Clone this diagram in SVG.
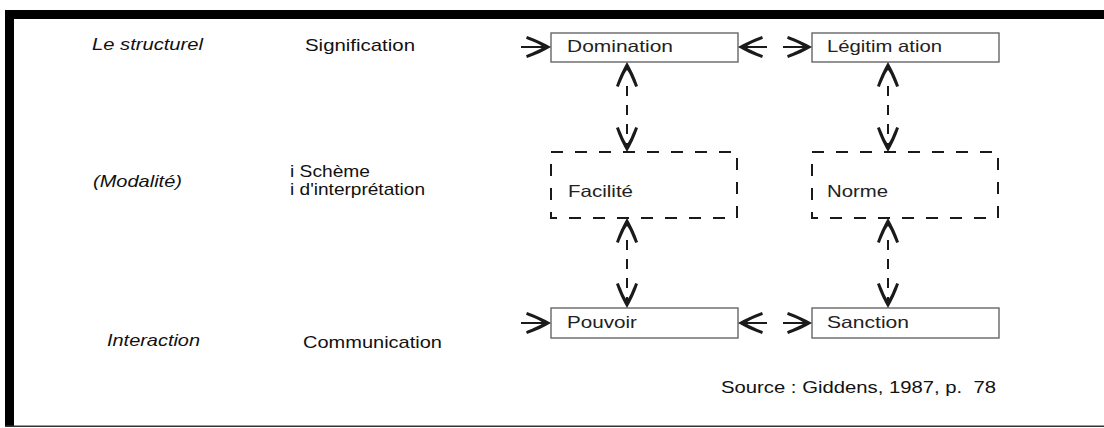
<svg xmlns="http://www.w3.org/2000/svg" xmlns:xlink="http://www.w3.org/1999/xlink" width="1104" height="428" viewBox="0 0 1104 428">
  <style>
    .lbl { font-family: "Liberation Sans", Arial, sans-serif; font-size: 17px; fill: #111; }
    .it { font-style: italic; }
    .nt { font-family: "Liberation Sans", Arial, sans-serif; font-size: 16.5px; fill: #222; }
    .box { fill: #fff; stroke: #666; stroke-width: 1.4; }
    .dbox { fill: none; stroke: #1a1a1a; stroke-width: 2; stroke-dasharray: 12 12; }
    .stem { stroke: #1a1a1a; stroke-width: 2; fill: none; }
    .dash { stroke-dasharray: 10 9; }
    .head { fill: #1a1a1a; }
  </style>
  <defs>
    <!-- barbed arrowhead with a solid tip, tip at origin, pointing along +x -->
    <path id="ah" class="head" d="M0,0 C-7,-4 -15,-8 -24,-11 L-25,-8.2 C-17,-5 -11,-2.5 -8,0 C-11,2.5 -17,5 -25,8.2 L-24,11 C-15,8 -7,4 0,0 Z"/>
  </defs>

  <rect width="1104" height="428" fill="#fff"/>

  <!-- frame -->
  <g id="frame">
    <rect x="5" y="10" width="1099" height="9" fill="#000"/>
    <rect x="5" y="10" width="9" height="417" fill="#000"/>
    <rect x="5" y="425.5" width="1099" height="1.5" fill="#333"/>
  </g>

  <!-- row labels -->
  <g id="labels">
    <text class="lbl it" x="92" y="50" textLength="111" lengthAdjust="spacingAndGlyphs">Le structurel</text>
    <text class="lbl" x="305" y="51" textLength="110" lengthAdjust="spacingAndGlyphs">Signification</text>
    <text class="lbl it" x="93" y="187" textLength="89" lengthAdjust="spacingAndGlyphs">(Modalité)</text>
    <text class="lbl" x="290" y="177" textLength="80" lengthAdjust="spacingAndGlyphs">i Schème</text>
    <text class="lbl" x="290" y="195" textLength="135" lengthAdjust="spacingAndGlyphs">i d'interprétation</text>
    <text class="lbl it" x="107" y="346" textLength="93" lengthAdjust="spacingAndGlyphs">Interaction</text>
    <text class="lbl" x="303" y="348" textLength="139" lengthAdjust="spacingAndGlyphs">Communication</text>
    <text class="lbl" x="721" y="393" textLength="275" lengthAdjust="spacingAndGlyphs" xml:space="preserve">Source : Giddens, 1987, p.  78</text>
  </g>

  <!-- nodes -->
  <g id="domination">
    <rect class="box" x="551" y="33" width="187" height="29"/>
    <text class="nt" x="567" y="52" textLength="106" lengthAdjust="spacingAndGlyphs">Domination</text>
  </g>
  <g id="legitimation">
    <rect class="box" x="812" y="33" width="187" height="29"/>
    <text class="nt" x="827" y="52" textLength="115" lengthAdjust="spacingAndGlyphs">Légitim ation</text>
  </g>
  <g id="facilite">
    <rect class="dbox" x="551" y="152" width="186" height="66"/>
    <text class="nt" x="568" y="197" textLength="65" lengthAdjust="spacingAndGlyphs">Facilité</text>
  </g>
  <g id="norme">
    <rect class="dbox" x="812" y="152" width="186" height="66"/>
    <text class="nt" x="827" y="197" textLength="61" lengthAdjust="spacingAndGlyphs">Norme</text>
  </g>
  <g id="pouvoir">
    <rect class="box" x="551" y="308" width="187" height="30"/>
    <text class="nt" x="567" y="328" textLength="70" lengthAdjust="spacingAndGlyphs">Pouvoir</text>
  </g>
  <g id="sanction">
    <rect class="box" x="812" y="308" width="187" height="30"/>
    <text class="nt" x="827" y="328" textLength="82" lengthAdjust="spacingAndGlyphs">Sanction</text>
  </g>

  <!-- connectors -->
  <g id="connectors">
    <!-- top row -->
    <line class="stem" x1="521" y1="47" x2="546" y2="47"/>
    <use xlink:href="#ah" href="#ah" transform="translate(551,47)"/>
    <line class="stem" x1="743" y1="47" x2="767" y2="47"/>
    <use xlink:href="#ah" href="#ah" transform="translate(738,47) rotate(180)"/>
    <line class="stem" x1="783" y1="47" x2="807" y2="47"/>
    <use xlink:href="#ah" href="#ah" transform="translate(812,47)"/>

    <!-- bottom row -->
    <line class="stem" x1="521" y1="323" x2="546" y2="323"/>
    <use xlink:href="#ah" href="#ah" transform="translate(551,323)"/>
    <line class="stem" x1="743" y1="323" x2="767" y2="323"/>
    <use xlink:href="#ah" href="#ah" transform="translate(738,323) rotate(180)"/>
    <line class="stem" x1="783" y1="323" x2="807" y2="323"/>
    <use xlink:href="#ah" href="#ah" transform="translate(812,323)"/>

    <!-- left column verticals -->
    <use xlink:href="#ah" href="#ah" transform="translate(627,62) rotate(-90)"/>
    <line class="stem dash" x1="627" y1="86" x2="627" y2="146"/>
    <use xlink:href="#ah" href="#ah" transform="translate(627,152) rotate(90)"/>
    <use xlink:href="#ah" href="#ah" transform="translate(627,218) rotate(-90)"/>
    <line class="stem dash" x1="627" y1="240" x2="627" y2="302"/>
    <use xlink:href="#ah" href="#ah" transform="translate(627,308) rotate(90)"/>

    <!-- right column verticals -->
    <use xlink:href="#ah" href="#ah" transform="translate(888,62) rotate(-90)"/>
    <line class="stem dash" x1="888" y1="86" x2="888" y2="146"/>
    <use xlink:href="#ah" href="#ah" transform="translate(888,152) rotate(90)"/>
    <use xlink:href="#ah" href="#ah" transform="translate(888,218) rotate(-90)"/>
    <line class="stem dash" x1="888" y1="240" x2="888" y2="302"/>
    <use xlink:href="#ah" href="#ah" transform="translate(888,308) rotate(90)"/>
  </g>
</svg>
